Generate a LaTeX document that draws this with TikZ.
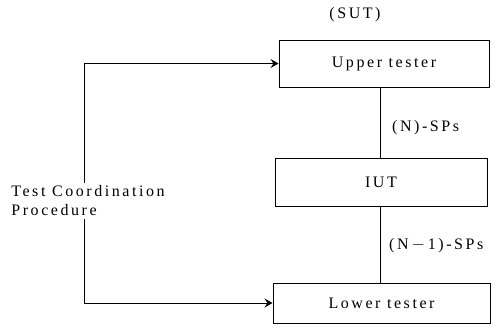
\documentclass[tikz,border=0pt]{standalone}
\usepackage{fontspec}
\setmainfont{Liberation Serif}[LetterSpace=16]
\usetikzlibrary{arrows.meta}
\begin{document}
\begin{tikzpicture}[x=1pt,y=-1pt,
  box/.style={draw,line width=1pt,inner sep=0pt,font=\fontsize{16}{18}\selectfont},
  lbl/.style={font=\fontsize{16}{18}\selectfont,inner sep=0pt,anchor=west},
  conn/.style={line width=1pt},
  arr/.style={line width=1pt,-{Stealth[length=8pt,width=9pt,inset=3pt]}}]
\useasboundingbox (0,0) rectangle (498,335);
\node[lbl,anchor=center] (sut) at (355,15) {(SUT)};
\node[box,minimum width=210pt,minimum height=47pt] (ut) at (384,63.5) {Upper tester};
\node[box,minimum width=212pt,minimum height=48pt] (iut) at (381,182) {IUT};
\node[box,minimum width=217pt,minimum height=40pt] (lt) at (381.5,303) {Lower tester};
\coordinate (vx) at (380,0);
\coordinate (lx) at (84,0);
\draw[conn] (vx |- ut.south) -- (vx |- iut.north);
\draw[conn] (vx |- iut.south) -- (vx |- lt.north);
\node[lbl] (nsp) at (392,128) {(N)-SPs};
\node[lbl] (n1sp) at (389,246) {(N$\,-\,$1)-SPs};
\node[lbl,anchor=center,align=left,font=\fontsize{16}{19}\selectfont,inner sep=3pt] (tcp) at (88,201) {Test Coordination\\Procedure};
\draw[arr] (lx |- tcp.north) |- (ut.west);
\draw[arr] (lx |- tcp.south) |- (lt.west);
\end{tikzpicture}
\end{document}
